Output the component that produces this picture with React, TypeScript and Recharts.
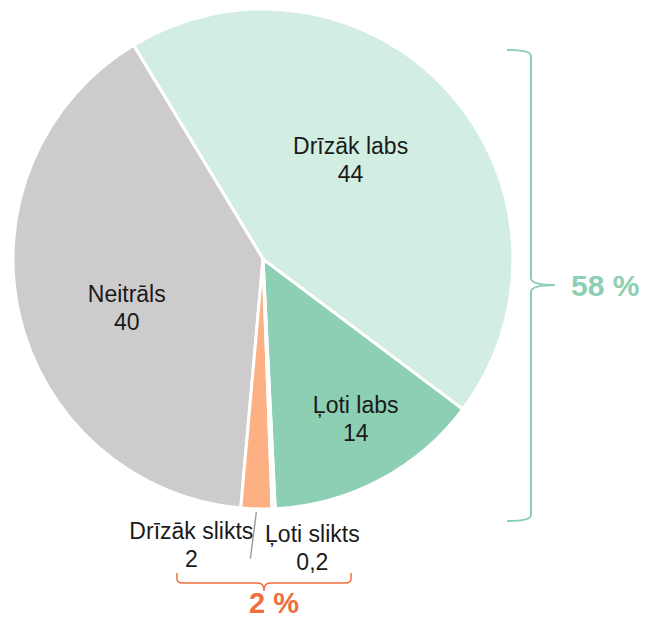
import { PieChart, Pie, Cell } from "recharts";

const categories = ["Ļoti labs", "Drīzāk labs", "Neitrāls", "Drīzāk slikts", "Ļoti slikts"];
const values = [14, 44, 40, 2, 0.2];
const COLORS = ["#8ccfb2", "#d2ede1", "#cecbcc", "#fdb083", "#f26b3a"];

const data = categories.map((name, i) => ({ name, value: values[i] }));
const total = values.reduce((a, b) => a + b, 0);
const goodShare = Math.round(((values[0] + values[1]) / total) * 100);
const badShare = Math.round(((values[3] + values[4]) / total) * 100);

const RADIAN = Math.PI / 180;
// label placement per slice: radius from centre, plus nudges
const LABEL_POS = [
  { r: 185, dx: 6, dy: -4 },
  { r: 133, dx: -11, dy: -11 },
  { r: 146, dx: 6, dy: 15 },
  { r: 290, dx: -64, dy: -5 },
  { r: 290, dx: 37, dy: -2 },
];

const fmt = (v: number) => String(v).replace(".", ",");

function renderLabel(props: any) {
  const { cx, cy, midAngle, outerRadius, index, name, value } = props;
  const pos = LABEL_POS[index];
  const x = cx + pos.r * Math.cos(-midAngle * RADIAN) + pos.dx;
  const y = cy + pos.r * Math.sin(-midAngle * RADIAN) + pos.dy - 13;
  const leader =
    index === 3 ? (
      <line
        x1={cx + (outerRadius + 3) * Math.cos(-midAngle * RADIAN)}
        y1={cy + (outerRadius + 3) * Math.sin(-midAngle * RADIAN)}
        x2={cx + (outerRadius + 50) * Math.cos(-(midAngle - 0.9) * RADIAN)}
        y2={cy + (outerRadius + 50) * Math.sin(-(midAngle - 0.9) * RADIAN)}
        stroke="#a0a0a0"
        strokeWidth={1.5}
      />
    ) : null;
  return (
    <g>
      {leader}
      <text
        x={x}
        y={y}
        textAnchor="middle"
        dominantBaseline="central"
        fill="#1a1a1a"
        fontSize={23}
        fontFamily="'Liberation Sans', Arial, sans-serif"
      >
        <tspan x={x} dy={0}>{name}</tspan>
        <tspan x={x} dy={28}>{fmt(value)}</tspan>
      </text>
    </g>
  );
}

export default function App() {
  return (
    <div style={{ position: "absolute", left: 0, top: 0, width: 645, height: 619 }}>
      <PieChart width={645} height={619} margin={{ top: 0, right: 0, bottom: 0, left: 0 }}>
        <Pie
          data={data}
          dataKey="value"
          nameKey="name"
          cx={263}
          cy={259}
          outerRadius={250}
          startAngle={-87.2}
          endAngle={272.8}
          stroke="#ffffff"
          strokeWidth={3}
          label={renderLabel}
          labelLine={false}
          isAnimationActive={false}
        >
          {data.map((_, i) => (
            <Cell key={`cell-${i}`} fill={COLORS[i]} />
          ))}
        </Pie>
      </PieChart>
      <svg
        width={645}
        height={619}
        style={{ position: "absolute", left: 0, top: 0, pointerEvents: "none" }}
      >
        <path
          d="M507 50 Q531 50 531 56 L531 278 Q531 285 555 285 Q531 285 531 292 L531 515 Q531 521 507 521"
          fill="none"
          stroke="#8ccfb2"
          strokeWidth={2}
        />
        <text
          x={571}
          y={285}
          dominantBaseline="central"
          fill="#8ccfb2"
          fontSize={30}
          fontWeight="bold"
          fontFamily="'Liberation Sans', Arial, sans-serif"
        >
          {goodShare} %
        </text>
        <path
          d="M177 573 L177 579 Q177 583 183 583 L258 583 Q264 583 264 591 Q264 583 270 583 L345 583 Q351 583 351 579 L351 573"
          fill="none"
          stroke="#f06d3e"
          strokeWidth={1.5}
        />
        <text
          x={274}
          y={603}
          textAnchor="middle"
          dominantBaseline="central"
          fill="#f06d3e"
          fontSize={29}
          fontWeight="bold"
          fontFamily="'Liberation Sans', Arial, sans-serif"
        >
          {badShare} %
        </text>
      </svg>
    </div>
  );
}
